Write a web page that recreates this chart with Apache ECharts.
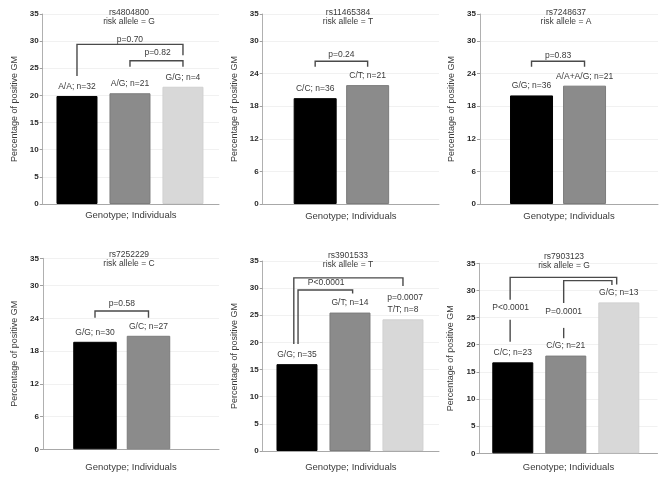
<!DOCTYPE html>
<html><head><meta charset="utf-8">
<script src="https://cdn.jsdelivr.net/npm/echarts@6/dist/echarts.min.js"></script>
<style>html,body{margin:0;padding:0;background:#fff}#c{width:660px;height:477px}</style>
</head><body><div id="c"></div>
<script>
// ---- data ----
const titles = [
  'rs4804800\nrisk allele = G', 'rs11465384\nrisk allele = T', 'rs7248637\nrisk allele = A',
  'rs7252229\nrisk allele = C', 'rs3901533\nrisk allele = T', 'rs7903123\nrisk allele = G'
];
const genotypes1 = ['A/A', 'A/G', 'G/G'];
const counts1 = [32, 21, 4];
const values1 = [19.9, 20.4, 21.6];
const genotypes2 = ['C/C', 'C/T'];
const counts2 = [36, 21];
const values2 = [19.5, 21.9];
const genotypes3 = ['G/G', 'A/A+A/G'];
const counts3 = [36, 21];
const values3 = [20.0, 21.8];
const genotypes4 = ['G/G', 'G/C'];
const counts4 = [30, 27];
const values4 = [19.7, 20.8];
const genotypes5 = ['G/G', 'G/T', 'T/T'];
const counts5 = [35, 14, 8];
const values5 = [16.0, 25.5, 24.25];
const genotypes6 = ['C/C', 'C/G', 'G/G'];
const counts6 = [23, 21, 13];
const values6 = [16.75, 18.0, 27.8];
const yTickInterval = [5, 6, 6, 6, 5, 5];
const yMax = 35;
// significance brackets (data units) and p-value labels
const brackets1 = [[[1, 23.6], [1, 29.4], [3, 29.4], [3, 27.4]], [[2, 25.3], [2, 26.4], [3, 26.4], [3, 25.3]]];
const pLabels1 = [[2, 30.35, 'p=0.70'], [2.52, 27.9, 'p=0.82']];
const brackets2 = [[[1, 25.3], [1, 26.3], [2, 26.3], [2, 25.3]]];
const pLabels2 = [[1.5, 27.6, 'p=0.24']];
const brackets3 = [[[1, 25.3], [1, 26.3], [2, 26.3], [2, 25.3]]];
const pLabels3 = [[1.5, 27.4, 'p=0.83']];
const brackets4 = [[[1, 24.1], [1, 25.35], [2, 25.35], [2, 24.1]]];
const pLabels4 = [[1.5, 26.6, 'p=0.58']];
const brackets5 = [[[0.94, 19.7], [0.94, 31.9], [3, 31.9], [3, 30.4]], [[1.02, 19.7], [1.02, 29.65], [2.05, 29.65], [2.05, 29.0]]];
const pLabels5 = [[1.55, 31.0, 'P<0.0001'], [3.04, 28.3, 'p=0.0007']];
const brackets6 = [
  [[0.95, 28.3], [0.95, 32.4], [2.96, 32.4], [2.96, 31.1]], [[0.95, 24.6], [0.95, 20.55]],
  [[1.96, 27.7], [1.96, 31.8], [2.87, 31.8], [2.87, 31.0]], [[1.96, 23.1], [1.96, 21.2]]
];
const pLabels6 = [[0.96, 26.85, 'P<0.0001'], [1.96, 26.1, 'P=0.0001']];
const xName = 'Genotype; Individuals';
const yName = 'Percentage of positive GM';

// ---- layout / style (not data) ----
const barColors = ['#000000', '#8b8b8b', '#d8d8d8'];
const barBorders = ['#000000', '#7c7c7c', '#d0d0d0'];
const layout = [
  {left: 42.7, top: 14, width: 176.3, height: 190, xmin: 0.353, xmax: 3.68, bw: 41, tx: 129, ty: 8.5, ng: 6.5},
  {left: 262.7, top: 14, width: 176.3, height: 190, xmin: 0.0, xmax: 3.36, bw: 43, tx: 348, ty: 8, ng: 7.5},
  {left: 480, top: 14, width: 178, height: 190, xmin: 0.028, xmax: 3.386, bw: 43, tx: 566, ty: 8, ng: 7.5},
  {left: 43, top: 258.3, width: 176, height: 191, xmin: 0.028, xmax: 3.318, bw: 43.5, tx: 129, ty: 250.5, ng: 13},
  {left: 262.7, top: 261, width: 176.3, height: 190, xmin: 0.353, xmax: 3.68, bw: 41, tx: 348, ty: 251.5, ng: 11.5},
  {left: 479.5, top: 263.3, width: 178, height: 190, xmin: 0.372, xmax: 3.73, bw: 41, tx: 564, ty: 252, ng: 9.5}
];
const panels = [
  [genotypes1, counts1, values1, brackets1, pLabels1],
  [genotypes2, counts2, values2, brackets2, pLabels2],
  [genotypes3, counts3, values3, brackets3, pLabels3],
  [genotypes4, counts4, values4, brackets4, pLabels4],
  [genotypes5, counts5, values5, brackets5, pLabels5],
  [genotypes6, counts6, values6, brackets6, pLabels6]
];
const FONT = '"Liberation Sans", Arial, sans-serif';
const TXT = '#3a3a3a';

const option = {
  animation: false,
  backgroundColor: '#ffffff',
  textStyle: {fontFamily: FONT},
  title: [], grid: [], xAxis: [], yAxis: [], series: []
};

panels.forEach((p, i) => {
  const [geno, cnt, vals, brk, pl] = p;
  const L = layout[i];
  option.title.push({
    text: titles[i], left: L.tx, top: L.ty, padding: 0, textAlign: 'center',
    textStyle: {fontSize: 8.5, lineHeight: 9, fontWeight: 'normal', color: TXT, fontFamily: FONT}
  });
  option.grid.push({left: L.left, top: L.top, width: L.width, height: L.height, containLabel: false});
  option.xAxis.push({
    type: 'value', gridIndex: i, min: L.xmin, max: L.xmax,
    name: xName, nameLocation: 'middle', nameGap: L.ng,
    nameTextStyle: {fontSize: 9.5, color: TXT, fontFamily: FONT},
    axisLine: {show: true, onZero: false, lineStyle: {color: '#a8a8a8', width: 1}},
    axisTick: {show: false}, axisLabel: {show: false},
    splitLine: {show: false}
  });
  option.yAxis.push({
    type: 'value', gridIndex: i, min: 0, max: yMax, interval: yTickInterval[i],
    name: yName, nameLocation: 'middle', nameGap: 24,
    nameTextStyle: {fontSize: 9, color: TXT, fontFamily: FONT},
    axisLine: {show: true, lineStyle: {color: '#b0b0b0', width: 1}},
    axisTick: {show: true, length: 3, lineStyle: {color: '#a0a0a0'}},
    axisLabel: {fontSize: 8, fontWeight: 'bold', color: '#2a2a2a', margin: 4, fontFamily: FONT},
    splitLine: {show: true, lineStyle: {color: '#f1f1f1', width: 1}}
  });
  option.series.push({
    type: 'bar', xAxisIndex: i, yAxisIndex: i, barWidth: L.bw,
    data: vals.map((v, k) => ({
      value: [k + 1, v],
      itemStyle: {color: barColors[k], borderColor: barBorders[k], borderWidth: 1}
    })),
    label: {
      show: true, position: 'top', distance: 5,
      fontSize: 8.5, color: TXT, fontFamily: FONT,
      formatter: (q) => geno[q.dataIndex] + '; n=' + cnt[q.dataIndex]
    },
    z: 2
  });
  option.series.push({
    type: 'custom', xAxisIndex: i, yAxisIndex: i, clip: false, silent: true,
    data: brk.map(b => b[0]),
    renderItem: (params, api) => ({
      type: 'polyline',
      shape: {points: brk[params.dataIndex].map(pt => api.coord(pt))},
      style: {stroke: '#4a4a4a', lineWidth: 1.4, fill: 'none'}
    }),
    z: 3
  });
  option.series.push({
    type: 'custom', xAxisIndex: i, yAxisIndex: i, clip: false, silent: true,
    data: pl.map(t => [t[0], t[1]]),
    renderItem: (params, api) => {
      const t = pl[params.dataIndex];
      const c = api.coord([t[0], t[1]]);
      return {
        type: 'text', x: c[0], y: c[1],
        style: {text: t[2], align: 'center', verticalAlign: 'middle', fontSize: 8.5, fill: TXT, fontFamily: FONT}
      };
    },
    z: 4
  });
});

const chart = echarts.init(document.getElementById('c'), null, {renderer: 'canvas'});
chart.setOption(option);
</script>
</body></html>
